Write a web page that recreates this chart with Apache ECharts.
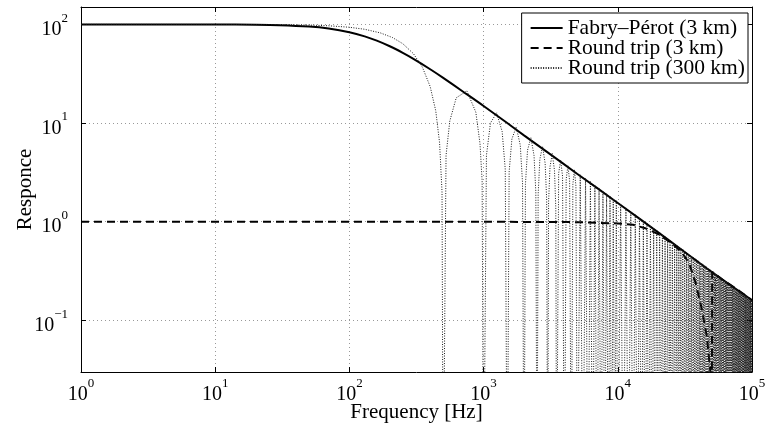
<!DOCTYPE html>
<html>
<head>
<meta charset="utf-8">
<script src="https://cdn.jsdelivr.net/npm/echarts@6/dist/echarts.min.js"></script>
<style>
  html, body { margin: 0; padding: 0; background: #fff; }
  #chart { width: 769px; height: 426px; }
</style>
</head>
<body>
<div id="chart"></div>
<script>
  // tick labels, shown as 10^n
  const freqTicks = [1, 10, 100, 1000, 10000, 100000];
  const freqTickExp = ['0', '1', '2', '3', '4', '5'];
  const respTicks = [0.1, 1, 10, 100];
  const respTickExp = ['\u22121', '0', '1', '2'];

  // Fabry–Pérot (3 km), [Hz, responce]
  const fabryPerot = [
    [1, 100], [10, 99.8], [20, 99.1], [30, 98.1], [50, 94.9], [70, 90.6],
    [100, 83.2], [130, 75.6], [160, 68.4], [200, 60], [250, 51.4], [300, 44.7],
    [400, 35.1], [500, 28.7], [700, 20.9], [1000, 14.9], [1500, 10.0],
    [2000, 7.5], [3000, 5.05], [5000, 3.05], [10000, 1.55], [20000, 0.78],
    [50000, 0.31], [100000, 0.16]
  ];

  // Round trip (3 km)
  const roundTrip3 = [
    [1, 1], [1000, 1], [5000, 0.99], [10000, 0.96], [13000, 0.93], [16000, 0.86],
    [20000, 0.75], [25000, 0.61], [30000, 0.49], [34000, 0.38], [38000, 0.24],
    [42000, 0.135], [46000, 0.07], [49000, 0.03], [50000, 0.001], [50500, 0.31],
    [60000, 0.26], [80000, 0.2], [100000, 0.16]
  ];

  // Round trip (300 km): the lobes that can be told apart (< 5 kHz)
  const roundTrip300Head = [
    [1, 100], [10, 99.9], [30, 99.4], [50, 98.4], [70, 96.8], [100, 93.5],
    [130, 89.2], [170, 82], [210, 73.4], [250, 63.7], [300, 50.5], [350, 36.8],
    [400, 23.4], [440, 13.3], [470, 6.3], [490, 2.0],
    [525, 4.7], [560, 10.5], [625, 18.0], [750, 21.2], [875, 12.9], [940, 6.2], [975, 2.6],
    [1050, 4.7], [1125, 10.0], [1250, 12.7], [1375, 8.2], [1450, 3.4],
    [1550, 3.2], [1625, 6.9], [1750, 9.1], [1875, 6.0], [1950, 2.5],
    [2050, 2.4], [2125, 5.3], [2250, 7.1], [2375, 4.7], [2450, 2.0],
    [2550, 1.9], [2625, 4.3], [2750, 5.8], [2875, 3.9], [2950, 1.7],
    [3050, 1.6], [3125, 3.6], [3250, 4.9], [3375, 3.3], [3450, 1.4],
    [3625, 3.1], [3750, 4.2], [3875, 2.9],
    [4125, 2.7], [4250, 3.7], [4375, 2.6],
    [4625, 2.4], [4750, 3.35], [4875, 2.3]
  ];
  // lobe tops above 5 kHz
  const roundTrip300Peaks = [
    [5250, 3.03], [5750, 2.77], [6250, 2.55], [6750, 2.36], [7250, 2.2],
    [7750, 2.05], [8250, 1.93], [8750, 1.82], [9250, 1.72], [9750, 1.63],
    [10500, 1.52], [11500, 1.38], [12500, 1.27], [13500, 1.18], [14500, 1.1],
    [15500, 1.03], [16500, 0.96], [17500, 0.91], [18500, 0.86], [19500, 0.82],
    [20500, 0.776], [21500, 0.74], [22500, 0.707], [23500, 0.677], [24500, 0.65],
    [25500, 0.624], [26500, 0.601], [27500, 0.579], [28500, 0.558], [29500, 0.54],
    [30500, 0.522], [31500, 0.505], [32500, 0.49], [33500, 0.475], [34500, 0.461],
    [35500, 0.448], [36500, 0.436], [37500, 0.424], [38500, 0.413], [39500, 0.403],
    [40500, 0.393], [41500, 0.383], [42500, 0.374], [43500, 0.366], [44500, 0.358],
    [45500, 0.35], [46500, 0.342], [47500, 0.335], [48500, 0.328], [49500, 0.322],
    [50500, 0.315], [51500, 0.309], [52500, 0.303], [53500, 0.297], [54500, 0.292],
    [55500, 0.287], [56500, 0.282], [57500, 0.277], [58500, 0.272], [59500, 0.267],
    [60500, 0.263], [61500, 0.259], [62500, 0.255], [63500, 0.251], [64500, 0.247],
    [65500, 0.243], [66500, 0.239], [67500, 0.236], [68500, 0.232], [69500, 0.229],
    [70500, 0.226], [71500, 0.223], [72500, 0.22], [73500, 0.217], [74500, 0.214],
    [75500, 0.211], [76500, 0.208], [77500, 0.205], [78500, 0.203], [79500, 0.2],
    [80500, 0.198], [81500, 0.195], [82500, 0.193], [83500, 0.191], [84500, 0.188],
    [85500, 0.186], [86500, 0.184], [87500, 0.182], [88500, 0.18], [89500, 0.178],
    [90500, 0.176], [91500, 0.174], [92500, 0.172], [93500, 0.17], [94500, 0.168],
    [95500, 0.167], [96500, 0.165], [97500, 0.163], [98500, 0.162], [99500, 0.16]
  ];
  // notch frequencies (drop far below the axis)
  const roundTrip300Notches = [
    500, 1000, 1500, 2000, 2500, 3000, 3500, 4000, 4500, 5000,
    5500, 6000, 6500, 7000, 7500, 8000, 8500, 9000, 9500, 10000,
    11000, 12000, 13000, 14000, 15000, 16000, 17000, 18000, 19000, 20000,
    21000, 22000, 23000, 24000, 25000, 26000, 27000, 28000, 29000, 30000,
    31000, 32000, 33000, 34000, 35000, 36000, 37000, 38000, 39000, 40000,
    41000, 42000, 43000, 44000, 45000, 46000, 47000, 48000, 49000, 50000,
    51000, 52000, 53000, 54000, 55000, 56000, 57000, 58000, 59000, 60000,
    61000, 62000, 63000, 64000, 65000, 66000, 67000, 68000, 69000, 70000,
    71000, 72000, 73000, 74000, 75000, 76000, 77000, 78000, 79000, 80000,
    81000, 82000, 83000, 84000, 85000, 86000, 87000, 88000, 89000, 90000,
    91000, 92000, 93000, 94000, 95000, 96000, 97000, 98000, 99000, 100000
  ];
  const notchDepth = 0.001;

  const roundTrip300 = roundTrip300Head
    .concat(roundTrip300Peaks)
    .concat(roundTrip300Notches.map(f => [f, notchDepth]))
    .sort((a, b) => a[0] - b[0]);

  const serif = 'Liberation Serif';

  function powLabel(ticks, exps) {
    return function (v) {
      const i = ticks.findIndex(t => Math.abs(t - v) / t < 1e-6);
      return i < 0 ? '' : '{b|10}{s|' + exps[i] + '}';
    };
  }
  const powRich = {
    b: { fontFamily: serif, fontSize: 20, color: '#000', lineHeight: 28, verticalAlign: 'bottom' },
    s: { fontFamily: serif, fontSize: 13, color: '#000', lineHeight: 8, verticalAlign: 'top' }
  };

  const axisLine = { show: true, lineStyle: { color: '#000', width: 1 } };
  const tickIn = { show: true, inside: true, length: 5, lineStyle: { color: '#000' } };
  const gridDots = { show: true, lineStyle: { color: '#999', width: 1, type: [1, 3] } };

  const myChart = echarts.init(document.getElementById('chart'));
  myChart.setOption({
    animation: false,
    backgroundColor: '#fff',
    grid: { left: 81, top: 7, width: 671, height: 365, containLabel: false, outerBoundsMode: 'none' },
    legend: {
      orient: 'vertical',
      right: 21,
      top: 13,
      padding: [4, 3, 4, 8],
      itemWidth: 32,
      itemHeight: 14,
      itemGap: -2,
      backgroundColor: '#fff',
      borderColor: '#000',
      borderWidth: 1,
      borderRadius: 0,
      itemStyle: { opacity: 0 },
      textStyle: { fontFamily: serif, fontSize: 21.5, color: '#000', lineHeight: 19.5 },
      data: ['Fabry\u2013P\u00e9rot (3 km)', 'Round trip (3 km)', 'Round trip (300 km)']
    },
    xAxis: [
      {
        type: 'log', logBase: 10, min: 1, max: 100000,
        position: 'bottom',
        name: 'Frequency [Hz]',
        nameLocation: 'middle',
        nameGap: 30,
        nameMoveOverlap: false,
        nameTextStyle: { fontFamily: serif, fontSize: 21, color: '#000' },
        axisLine: axisLine,
        axisTick: tickIn,
        axisLabel: { margin: 5, formatter: powLabel(freqTicks, freqTickExp), rich: powRich },
        splitLine: gridDots,
        minorTick: { show: false }
      },
      {
        type: 'log', logBase: 10, min: 1, max: 100000,
        position: 'top',
        axisLine: axisLine,
        axisTick: tickIn,
        axisLabel: { show: false },
        splitLine: { show: false }
      }
    ],
    yAxis: [
      {
        type: 'log', logBase: 10, min: 0.03, max: 150,
        position: 'left',
        name: 'Responce',
        nameLocation: 'middle',
        nameGap: 45,
        nameMoveOverlap: false,
        nameTextStyle: { fontFamily: serif, fontSize: 21, color: '#000' },
        axisLine: axisLine,
        axisTick: tickIn,
        axisLabel: {
          margin: 13,
          padding: [3, 0, 0, 0],
          showMinLabel: false,
          showMaxLabel: false,
          formatter: powLabel(respTicks, respTickExp),
          rich: powRich
        },
        splitLine: gridDots
      },
      {
        type: 'log', logBase: 10, min: 0.03, max: 150,
        position: 'right',
        axisLine: axisLine,
        axisTick: tickIn,
        axisLabel: { show: false },
        splitLine: { show: false }
      }
    ],
    series: [
      {
        name: 'Fabry\u2013P\u00e9rot (3 km)',
        type: 'line',
        xAxisIndex: 0, yAxisIndex: 0,
        symbol: 'none',
        smooth: 0.3,
        lineStyle: { color: '#000', width: 2 },
        itemStyle: { color: '#000' },
        data: fabryPerot
      },
      {
        name: 'Round trip (3 km)',
        type: 'line',
        xAxisIndex: 0, yAxisIndex: 0,
        symbol: 'none',
        lineStyle: { color: '#000', width: 2, type: [8, 5] },
        itemStyle: { color: '#000' },
        data: roundTrip3
      },
      {
        name: 'Round trip (300 km)',
        type: 'line',
        xAxisIndex: 0, yAxisIndex: 0,
        symbol: 'none',
        lineStyle: { color: '#1a1a1a', width: 1, type: [1, 1.5] },
        itemStyle: { color: '#1a1a1a' },
        data: roundTrip300
      }
    ]
  });

  window.addEventListener('resize', () => {
    myChart && myChart.resize();
  });
</script>
</body>
</html>
